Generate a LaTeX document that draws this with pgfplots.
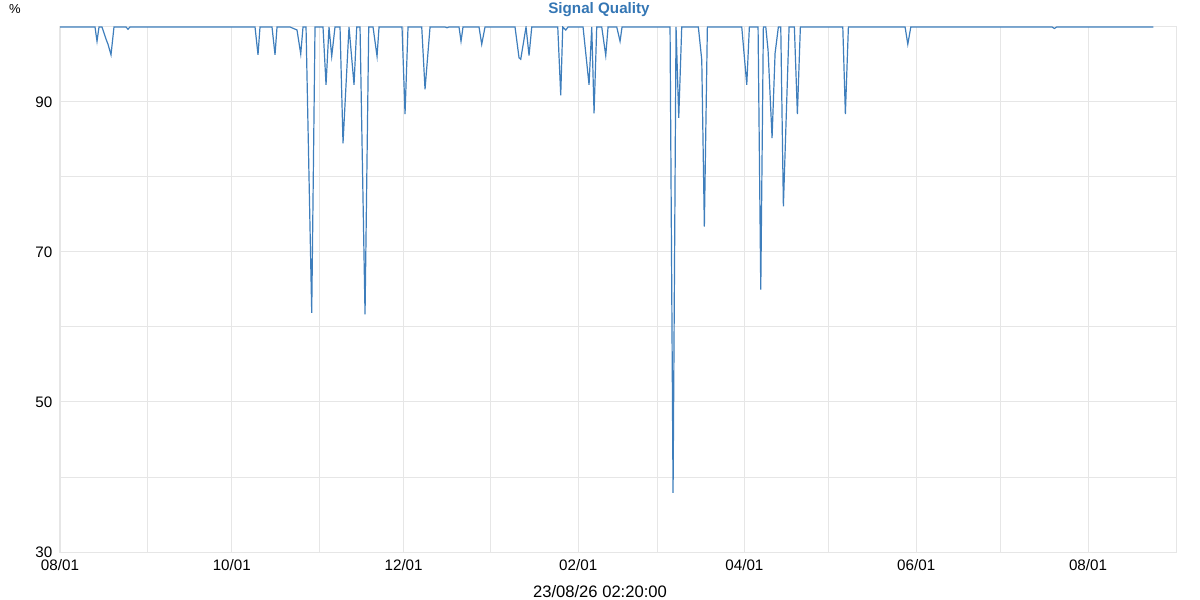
\documentclass[border=0pt]{standalone}
\usepackage{pgfplots}
\pgfplotsset{compat=1.18}
\usepackage{fontspec}
\setmainfont{Liberation Sans}

\definecolor{sqline}{RGB}{62,126,188}
\definecolor{sqtitle}{RGB}{52,118,180}
\definecolor{gridgray}{RGB}{230,230,230}

% x = days since 08/01, y = signal quality in %
\begin{document}
\begin{tikzpicture}
% 1 px of the 1200x600 image = 0.5pt, axis origin at px (60,552)
\path[use as bounding box] (-30pt,-24pt) rectangle (570pt,276pt);
\begin{axis}[
  at={(0,0)}, anchor=south west,
  scale only axis,
  width=558.25pt, height=262.5pt,
  xmin=0, xmax=396.4,
  ymin=30, ymax=100,
  xtick={0,31,61,92,122,153,184,212,243,273,304,334,365},
  xticklabels={08/01,,10/01,,12/01,,02/01,,04/01,,06/01,,08/01},
  ytick={30,40,50,60,70,80,90,100},
  yticklabels={30,,50,,70,,90,},
  tick style={draw=none},
  grid=major,
  major grid style={draw=gridgray, line width=0.5pt},
  axis line style={draw=gridgray, line width=0.5pt},
  ticklabel style={font=\fontsize{7.6}{9}\selectfont, text=black},
  yticklabel style={xshift=-0.3pt},
]
\addplot[sqline, line width=0.6pt] coordinates {
(0,100) (12.43,100) (13.14,98.1) (13.85,100) (14.91,100) (16.33,98.4)
(17.04,97.7) (18.11,96.3) (19.17,100) (23.43,100) (24.14,99.7) (24.85,100)
(69.24,100) (70.30,96.3) (71.01,100) (75.27,100) (76.34,96.3) (77.05,100)
(81.67,100) (84.15,99.6) (85.47,96.4) (86.28,100) (87.35,100) (89.37,61.9)
(90.54,100) (93.38,100) (94.45,92.3) (95.51,100) (96.47,96.1) (97.64,100)
(99.42,100) (100.48,84.5) (102.61,100) (104.39,92.3) (105.35,100) (106.52,100)
(108.30,61.7) (109.61,100) (111.14,100) (112.56,96.1) (113.27,100)
(121.43,100) (122.50,88.4) (123.56,100) (128.43,100) (129.60,91.7) (131.38,100)
(136.70,100) (137.41,99.9) (138.12,100) (141.67,100) (142.38,98.1) (143.09,100)
(148.77,100) (149.73,97.7) (150.90,100) (161.55,100) (162.97,95.9) (163.58,95.7)
(165.46,100) (166.53,96.2) (167.49,100) (176.72,100) (177.78,90.9) (178.49,100)
(179.56,99.6) (180.38,100) (185.70,100) (187.83,92.3) (188.79,100) (189.61,88.5)
(190.56,100) (192.34,100) (193.76,96.2) (194.58,100) (197.67,100) (198.84,98.1)
(199.55,100) (216.59,100) (217.66,37.9) (218.72,100) (219.68,87.9) (220.74,100)
(226.64,100) (227.85,95.6) (228.77,73.4) (229.84,100) (242.05,100) (243.83,92.3)
(244.75,100) (247.84,100) (248.80,65.0) (249.72,100) (250.58,100) (251.39,96.9)
(252.81,85.2) (253.88,96.5) (255.05,100) (255.90,100) (256.83,76.1) (258.85,100)
(260.73,100) (261.80,88.4) (262.86,100) (277.92,100) (278.84,88.4) (279.91,100)
(300.04,100) (301.00,97.7) (302.07,100) (352.22,100) (353.04,99.8) (353.83,100)
(388.2,100)
};
\end{axis}
\node[font=\bfseries\fontsize{7.6}{9}\selectfont, text=sqtitle] at (269.5pt,271pt) {Signal Quality};
\node[font=\fontsize{6.5}{8}\selectfont] at (-22.5pt,271.5pt) {\%};
\node[font=\fontsize{8.3}{10}\selectfont] at (270pt,-20pt) {23/08/26 02:20:00};
\end{tikzpicture}
\end{document}
